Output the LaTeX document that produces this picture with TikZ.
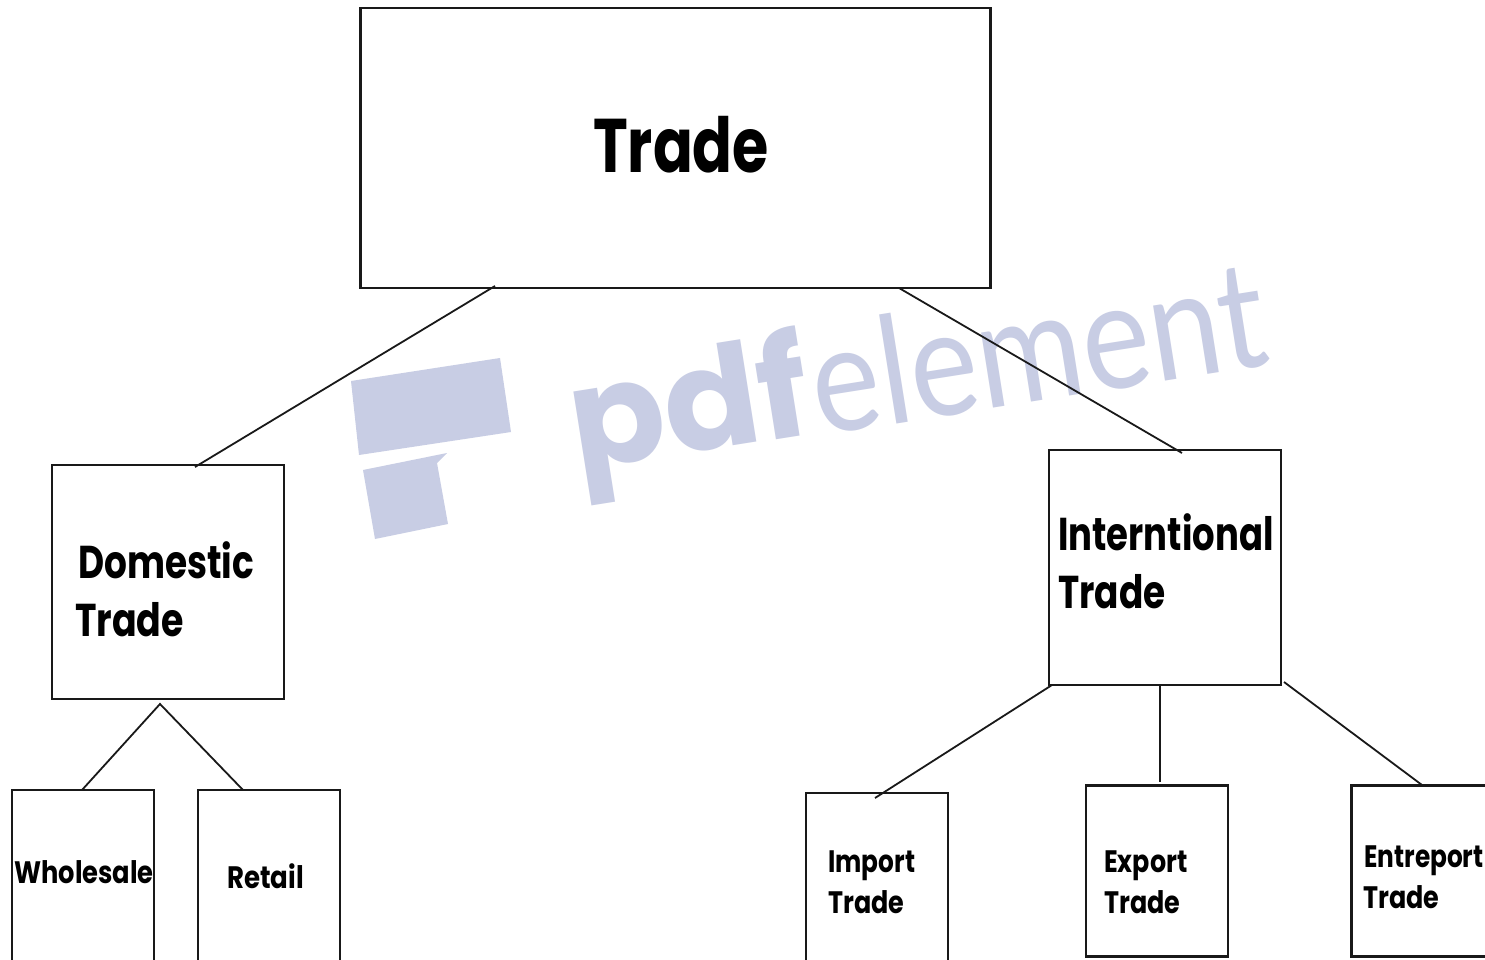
\documentclass[tikz,border=0pt]{standalone}
\usepackage{fontspec}
\setmainfont{Poppins}
\newfontfamily\wmlight{Lato}
\definecolor{wm}{HTML}{C8CDE4}
\tikzset{
  x=1pt,y=-1pt,
  box/.style={draw=black!90,line width=2.4pt,inner sep=0pt,fill=none},
  conn/.style={draw=black!90,line width=1.8pt},
  lab/.style={anchor=west,inner sep=0pt,align=left},
  bigtext/.style={lab,font=\fontsize{76}{76}\fontseries{sb}\selectfont},
  midtext/.style={lab,font=\fontsize{46}{46}\fontseries{sb}\selectfont},
  smalltext/.style={lab,font=\fontsize{31}{31}\fontseries{sb}\selectfont},
}
\begin{document}
\begin{tikzpicture}
\useasboundingbox (0,0) rectangle (1485,960);
\clip (0,0) rectangle (1485,960);
\fill[white] (0,0) rectangle (1485,960);
% watermark
\fill[wm] (351,381) -- (500,358) -- (511,432) -- (359,455) -- cycle;
\fill[wm] (363,470) -- (447,453) -- (437,463) -- (448,524) -- (375,539) -- cycle;
\node[wm,rotate=9,inner sep=0pt,anchor=west] (wmpdf) at (572,435) {\fontsize{140}{140}\bfseries\selectfont\scalebox{1.0}[1]{pdf}};
\node[wm,rotate=9,inner sep=0pt,anchor=west] (wmel) at (811,382) {\wmlight\fontsize{150}{150}\selectfont\scalebox{0.86}[1]{element}};
% boxes
\node[box,minimum width=630pt,minimum height=280pt] (trade) at (675.5,148) {};
\node[box,minimum width=232pt,minimum height=234pt] (dom) at (168,582) {};
\node[box,minimum width=232pt,minimum height=235pt] (intl) at (1165,567.5) {};
\node[box,minimum width=142pt,minimum height=190pt] (whole) at (83,885) {};
\node[box,minimum width=142pt,minimum height=190pt] (retail) at (269,885) {};
\node[box,minimum width=142pt,minimum height=190pt] (import) at (877,888) {};
\node[box,minimum width=142pt,minimum height=171pt] (export) at (1157,871) {};
\node[box,minimum width=142pt,minimum height=171pt] (entre) at (1422.5,871) {};
% connectors
\coordinate (c1) at (495,286);
\coordinate (c2) at (195,467);
\coordinate (c3) at (899,288);
\coordinate (c4) at (1182,453);
\coordinate (c5) at (160,704);
\coordinate (c6) at (82,790);
\coordinate (c7) at (243,790);
\coordinate (c8) at (1052,685);
\coordinate (c9) at (875,798);
\coordinate (c10) at (1160,685);
\coordinate (c11) at (1160,782);
\coordinate (c12) at (1284,682);
\coordinate (c13) at (1422,785);
\draw[conn] (c1) -- (c2);
\draw[conn] (c3) -- (c4);
\draw[conn] (c6) -- (c5) -- (c7);
\draw[conn] (c8) -- (c9);
\draw[conn] (c10) -- (c11);
\draw[conn] (c12) -- (c13);
% labels
\node[bigtext] (ttrade) at (593,145) {\scalebox{0.773}[1]{Trade}};
\node[midtext] (td1) at (78,560) {\scalebox{0.78}[1]{Domestic}};
\node[midtext] (td2) at (75,620) {\scalebox{0.79}[1]{Trade}};
\node[midtext] (ti1) at (1058,532) {\scalebox{0.77}[1]{Interntional}};
\node[midtext] (ti2) at (1058,592) {\scalebox{0.78}[1]{Trade}};
\node[smalltext] (tw) at (14,872) {\scalebox{0.83}[1]{Wholesale}};
\node[smalltext] (tr) at (227,876) {\scalebox{0.84}[1]{Retail}};
\node[smalltext] (tim1) at (828,866) {\scalebox{0.8}[1]{Import}};
\node[smalltext] (tim2) at (828,902) {\scalebox{0.82}[1]{Trade}};
\node[smalltext] (tex1) at (1104,866) {\scalebox{0.82}[1]{Export}};
\node[smalltext] (tex2) at (1104,902) {\scalebox{0.82}[1]{Trade}};
\node[smalltext] (ten1) at (1364,861) {\scalebox{0.8}[1]{Entreport}};
\node[smalltext] (ten2) at (1363,897) {\scalebox{0.82}[1]{Trade}};
\end{tikzpicture}
\end{document}
